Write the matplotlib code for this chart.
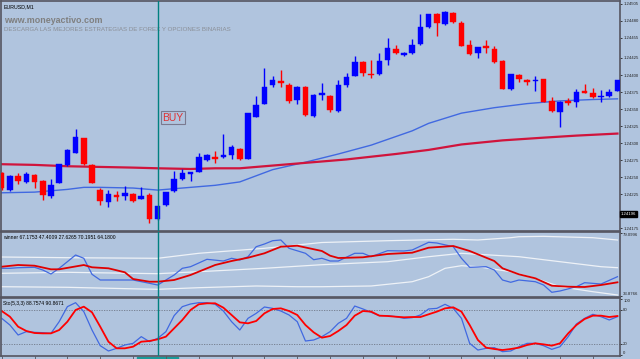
import numpy as np
import matplotlib.pyplot as plt

# EURUSD M1 candles (bar index 0..75)
opens = [1.24256, 1.24231, 1.24252, 1.24243, 1.24253, 1.24245, 1.24222, 1.24241, 1.24268, 1.24286,
         1.24308, 1.24268, 1.24231, 1.24213, 1.24224, 1.24222, 1.24225, 1.24218, 1.24224, 1.24188,
         1.24209, 1.24229, 1.24247, 1.24255, 1.24258, 1.24275, 1.24280, 1.24279, 1.24283, 1.24292,
         1.24277, 1.24339, 1.24357, 1.24385, 1.24391, 1.24386, 1.24364, 1.24383, 1.24340, 1.24371,
         1.24369, 1.24347, 1.24386, 1.24399, 1.24419, 1.24401, 1.24401, 1.24422, 1.24438, 1.24429,
         1.24432, 1.24446, 1.24470, 1.24490, 1.24475, 1.24491, 1.24477, 1.24444, 1.24432, 1.24443,
         1.24438, 1.24420, 1.24380, 1.24400, 1.24392, 1.24391, 1.24394, 1.24362, 1.24345, 1.24362,
         1.24361, 1.24376, 1.24373, 1.24367, 1.24369, 1.24377]
highs = [1.24258, 1.24253, 1.24256, 1.24258, 1.24254, 1.24246, 1.24247, 1.24270, 1.24291, 1.24320,
         1.24308, 1.24270, 1.24234, 1.24231, 1.24229, 1.24237, 1.24226, 1.24236, 1.24226, 1.24208,
         1.24228, 1.24259, 1.24262, 1.24258, 1.24285, 1.24284, 1.24289, 1.24313, 1.24297, 1.24293,
         1.24344, 1.24369, 1.24410, 1.24398, 1.24407, 1.24388, 1.24384, 1.24384, 1.24372, 1.24388,
         1.24370, 1.24392, 1.24403, 1.24428, 1.24421, 1.24422, 1.24432, 1.24455, 1.24444, 1.24434,
         1.24453, 1.24490, 1.24490, 1.24491, 1.24494, 1.24492, 1.24479, 1.24451, 1.24441, 1.24451,
         1.24443, 1.24422, 1.24401, 1.24401, 1.24394, 1.24398, 1.24394, 1.24367, 1.24362, 1.24366,
         1.24379, 1.24387, 1.24381, 1.24378, 1.24379, 1.24393]
lows = [1.24231, 1.24230, 1.24240, 1.24242, 1.24234, 1.24216, 1.24220, 1.24241, 1.24267, 1.24286,
        1.24268, 1.24242, 1.24209, 1.24206, 1.24215, 1.24217, 1.24214, 1.24218, 1.24183, 1.24187,
        1.24208, 1.24228, 1.24246, 1.24245, 1.24257, 1.24274, 1.24271, 1.24278, 1.24276, 1.24275,
        1.24276, 1.24338, 1.24357, 1.24382, 1.24382, 1.24359, 1.24357, 1.24340, 1.24339, 1.24363,
        1.24346, 1.24346, 1.24382, 1.24398, 1.24398, 1.24395, 1.24400, 1.24415, 1.24431, 1.24428,
        1.24431, 1.24444, 1.24469, 1.24457, 1.24474, 1.24477, 1.24442, 1.24430, 1.24425, 1.24432,
        1.24418, 1.24379, 1.24378, 1.24390, 1.24385, 1.24377, 1.24360, 1.24346, 1.24323, 1.24356,
        1.24353, 1.24373, 1.24366, 1.24360, 1.24368, 1.24377]
closes = [1.24234, 1.24252, 1.24244, 1.24255, 1.24243, 1.24224, 1.24238, 1.24269, 1.24290, 1.24309,
          1.24269, 1.24242, 1.24215, 1.24225, 1.24221, 1.24226, 1.24215, 1.24222, 1.24188, 1.24207,
          1.24228, 1.24248, 1.24256, 1.24257, 1.24279, 1.24283, 1.24276, 1.24283, 1.24294, 1.24276,
          1.24344, 1.24356, 1.24383, 1.24393, 1.24388, 1.24362, 1.24382, 1.24341, 1.24370, 1.24373,
          1.24348, 1.24385, 1.24397, 1.24419, 1.24403, 1.24400, 1.24420, 1.24439, 1.24432, 1.24433,
          1.24444, 1.24470, 1.24489, 1.24477, 1.24493, 1.24478, 1.24442, 1.24431, 1.24441, 1.24439,
          1.24419, 1.24379, 1.24401, 1.24394, 1.24390, 1.24393, 1.24361, 1.24347, 1.24360, 1.24359,
          1.24375, 1.24374, 1.24368, 1.24369, 1.24375, 1.24393]

# moving averages, read at some bars
ma_fast_bars = [0, 4, 8, 10, 12, 16, 19, 23, 26, 29, 33, 37, 41, 45, 50, 52, 56, 60, 64, 68, 72, 75]
ma_fast = [1.24227, 1.24228, 1.24232, 1.24235, 1.24235, 1.24234, 1.24231, 1.24235, 1.24238, 1.24243,
           1.24261, 1.24272, 1.24284, 1.24297, 1.24318, 1.24329, 1.24344, 1.24352, 1.24358, 1.24362,
           1.24364, 1.24365]
ma_slow_bars = [0, 4, 8, 12, 16, 19, 23, 26, 29, 33, 36, 42, 48, 52, 56, 61, 66, 70, 75]
ma_slow = [1.24269, 1.24268, 1.24266, 1.24265, 1.24264, 1.24263, 1.24262, 1.24263, 1.24263, 1.24267,
           1.24270, 1.24276, 1.24284, 1.24290, 1.24298, 1.24304, 1.24308, 1.24311, 1.24314]

price_ticks = [1.24505, 1.24480, 1.24455, 1.24425, 1.24400, 1.24375, 1.24350, 1.24325,
               1.24300, 1.24275, 1.24250, 1.24225, 1.24175]
last_price = 1.24196
buy_bar = 19
buy_price = 1.24337

# "winner" indicator
win_blue_bars = [0, 1, 2, 4, 5, 6, 7, 8, 9, 10, 11, 12, 13, 16, 18, 19, 21, 22, 23, 25, 27, 28, 29, 30,
                 31, 32, 33, 34, 35, 37, 38, 39, 40, 41, 43, 44, 45, 47, 49, 50, 52, 53, 55, 56, 57, 59,
                 60, 61, 62, 63, 65, 66, 67, 68, 70, 71, 73, 75]
win_blue = [53.76, 53.76, 54.19, 54.48, 52.54, 49.67, 53.76, 58.5, 63.31, 60.94, 49.45, 45.36, 45.36,
            45.36, 43.0, 41.77, 48.95, 53.76, 54.91, 60.22, 59.0, 60.94, 59.72, 62.09, 69.27, 71.2,
            73.57, 74.08, 68.12, 64.53, 59.93, 60.94, 59.0, 59.0, 64.53, 64.53, 62.09, 66.4, 66.18,
            66.9, 72.42, 71.92, 69.27, 60.94, 54.48, 54.91, 52.54, 45.36, 43.71, 45.36, 44.14, 41.77,
            36.53, 37.47, 40.55, 43.43, 42.49, 47.73]
win_red_bars = [0, 2, 4, 6, 7, 10, 11, 13, 15, 16, 18, 19, 21, 23, 26, 28, 30, 32, 34, 36, 39, 40, 41,
                44, 47, 50, 52, 55, 57, 60, 61, 63, 65, 67, 69, 71, 73, 75]
win_red = [54.91, 56.13, 55.63, 53.04, 53.04, 56.13, 54.48, 53.76, 50.89, 46.08, 44.14, 44.14, 45.36,
           48.95, 56.13, 59.0, 61.37, 64.53, 69.27, 69.98, 66.18, 62.81, 61.15, 61.66, 64.03, 64.96,
           68.55, 69.77, 66.18, 59.0, 53.76, 49.45, 46.58, 41.27, 40.55, 40.34, 41.77, 43.71]
band_up_bars = [0, 8, 19, 24, 32, 39, 47, 55, 58, 62, 63, 66, 72, 75]
band_up = [61.87, 61.37, 60.94, 64.53, 68.12, 72.28, 73.57, 74.58, 74.08, 75.73, 76.44, 76.7, 75.73, 74.08]
band_mid_bars = [0, 8, 19, 24, 32, 39, 47, 52, 56, 58, 63, 68, 73, 75]
band_mid = [50.17, 50.89, 49.89, 51.32, 53.76, 56.35, 58.5, 62.09, 64.53, 63.81, 62.09, 58.5, 54.91, 54.19]
band_lo_bars = [0, 8, 17, 19, 24, 31, 36, 39, 45, 50, 52, 54, 56, 58, 62, 65, 68, 72, 75]
band_lo = [40.55, 40.12, 38.9, 38.69, 39.84, 41.06, 40.55, 40.55, 41.06, 44.14, 47.73, 53.76, 55.63,
           54.91, 51.32, 46.58, 40.55, 36.97, 34.6]

# Stochastic(5,3,3), one value per bar
sto_main = [65.2, 53.4, 35.8, 41.7, 40.5, 39.9, 38.7, 59.3, 85.8, 92.8, 77.0, 44.6, 17.0, 7.6, 12.3,
            18.2, 21.1, 32.9, 24.0, 29.9, 41.7, 69.9, 85.8, 90.5, 92.8, 92.8, 90.0, 78.1, 59.3, 44.6,
            65.2, 74.0, 85.2, 82.8, 78.1, 71.1, 59.3, 25.2, 27.0, 32.9, 41.7, 56.4, 65.2, 86.9, 81.7,
            75.8, 69.9, 69.9, 68.1, 65.2, 66.4, 71.1, 81.7, 82.8, 89.9, 82.8, 65.2, 21.1, 9.3, 12.3,
            13.5, 6.4, 7.6, 15.2, 21.1, 21.1, 17.0, 10.5, 15.2, 32.9, 55.2, 65.2, 72.3, 68.1, 62.3, 68.1]
sto_signal = [78.1, 68.1, 50.5, 42.9, 39.3, 38.7, 38.7, 44.6, 59.3, 79.9, 85.8, 75.8, 50.5, 24.0, 12.3,
              12.3, 15.2, 24.0, 25.2, 28.2, 32.9, 47.6, 62.3, 79.9, 89.9, 91.7, 91.7, 84.0, 71.1, 58.1,
              56.4, 60.5, 74.0, 81.7, 82.8, 78.1, 71.1, 53.4, 40.5, 31.1, 34.0, 42.9, 53.4, 69.9, 78.1,
              77.0, 69.9, 69.3, 68.1, 67.0, 67.5, 67.5, 72.3, 77.0, 82.8, 84.6, 77.0, 53.4, 27.0, 13.5,
              11.1, 9.3, 11.1, 13.5, 18.2, 21.1, 19.3, 17.0, 21.1, 38.7, 53.4, 64.0, 69.9, 69.9, 67.5, 69.3]

bg = '#b0c4de'
frame = '#555560'
W, H = 640, 359
lab_size = 3.1


def box(x0, y0, x1, y1):
    return [x0 / W, 1 - y1 / H, (x1 - x0) / W, (y1 - y0) / H]


fig = plt.figure(figsize=(6.4, 3.59), dpi=100, facecolor=bg)
ax = fig.add_axes(box(1, 1, 620, 231))
ax2 = fig.add_axes(box(1, 232, 620, 297))
ax3 = fig.add_axes(box(1, 298, 620, 356))

xlim = (-0.085, 75.31)
for a in (ax, ax2, ax3):
    a.set_facecolor(bg)
    a.set_xlim(*xlim)
    for s in a.spines.values():
        s.set_color(frame)
        s.set_linewidth(1.2)
    a.yaxis.tick_right()
    a.tick_params(axis='y', length=1.5, width=0.6, colors='#222222', labelsize=lab_size, pad=0.8)
    a.tick_params(axis='x', length=0, labelbottom=False)
    a.axvline(buy_bar, color='#008080', lw=1, zorder=5)

# candles
x = np.arange(len(opens))
o = np.array(opens); c = np.array(closes)
cols = np.where(c >= o, '#0000ff', '#ff0000')
ax.vlines(x, lows, highs, colors=cols, lw=1, zorder=3)
body_lo = np.minimum(o, c)
body_h = np.maximum(np.abs(c - o), 0.000015)
ax.bar(x, body_h, bottom=body_lo, width=0.68, color=cols, edgecolor=cols, lw=0.3, zorder=4)
ax.plot(ma_fast_bars, ma_fast, color='#4169e1', lw=1, zorder=2)
ax.plot(ma_slow_bars, ma_slow, color='#d0143c', lw=1.6, zorder=2)
ax.set_ylim(1.241709, 1.245087)
ax.set_yticks(price_ticks)
ax.set_yticklabels([f'{p:.5f}' for p in price_ticks], family='Liberation Sans')
ax.text(75.42, last_price, f'{last_price:.5f}', color='white', fontsize=lab_size, family='Liberation Sans',
        va='center', ha='left', clip_on=False,
        bbox=dict(boxstyle='square,pad=0.2', fc='black', ec='black'))

ax.text(buy_bar + 0.6, buy_price, 'BUY', color='#e03030', fontsize=7.5, family='Liberation Sans',
        va='center', ha='left', zorder=6,
        bbox=dict(boxstyle='square,pad=0.15', fc='none', ec='#7a7a90', lw=0.8))

ax.text(0.004, 0.985, 'EURUSD,M1', transform=ax.transAxes, fontsize=3.8, color='black',
        family='Liberation Sans', va='top', ha='left')
ax.text(0.005, 0.935, 'www.moneyactivo.com', transform=ax.transAxes, fontsize=6.4, color='#7f7f7f',
        family='Liberation Sans', weight='bold', va='top', ha='left')
ax.text(0.005, 0.885, 'DESCARGA LAS MEJORES ESTRATEGIAS DE FOREX Y OPCIONES BINARIAS',
        transform=ax.transAxes, fontsize=4.4, color='#8a8e96', family='Liberation Sans',
        va='top', ha='left')

# winner panel
for bars, vals in ((band_up_bars, band_up), (band_mid_bars, band_mid), (band_lo_bars, band_lo)):
    ax2.plot(bars, vals, color='#eef2f7', lw=0.9)
ax2.plot(win_blue_bars, win_blue, color='#4169e1', lw=0.9)
ax2.plot(win_red_bars, win_red, color='#e00000', lw=1.3)
ax2.set_ylim(33.16, 79.82)
ax2.set_yticks([79.0996, 33.8766])
ax2.set_yticklabels(['79.0996', '33.8766'], family='Liberation Sans')
lbl = ax2.get_yticklabels()
lbl[0].set_va('top'); lbl[1].set_va('bottom')
ax2.text(0.004, 0.96, 'winner 67.1753 47.4009 27.6265 70.1951 64.1800', transform=ax2.transAxes,
         fontsize=3.6, color='black', family='Liberation Sans', va='top', ha='left')

# stochastic panel
ax3.axhline(80, color='#707888', lw=0.6, ls=(0, (1.5, 1.5)))
ax3.axhline(20, color='#707888', lw=0.6, ls=(0, (1.5, 1.5)))
ax3.plot(x, sto_main, color='#4169e1', lw=0.9)
ax3.plot(x, sto_signal, color='#ff0000', lw=1.3)
ax3.set_ylim(-1.23, 101.06)
ax3.set_yticks([100, 80, 20, 0])
ax3.set_yticklabels(['100', '80', '20', '0'], family='Liberation Sans')
lbl = ax3.get_yticklabels()
lbl[0].set_va('top'); lbl[3].set_va('bottom')
ax3.set_xticks(np.arange(0, 76, 4))
ax3.tick_params(axis='x', length=2.5, width=0.6, colors=frame, direction='out')
ax3.text(0.004, 0.95, 'Sto(5,3,3) 88.7574 90.8671', transform=ax3.transAxes,
         fontsize=3.6, color='black', family='Liberation Sans', va='top', ha='left')
ax3.axvspan(buy_bar - 2.5, buy_bar + 2.5, ymin=-0.06, ymax=-0.02, color='#1a9a9a', clip_on=False)

fig.savefig('out.png', dpi=100, facecolor=bg)
